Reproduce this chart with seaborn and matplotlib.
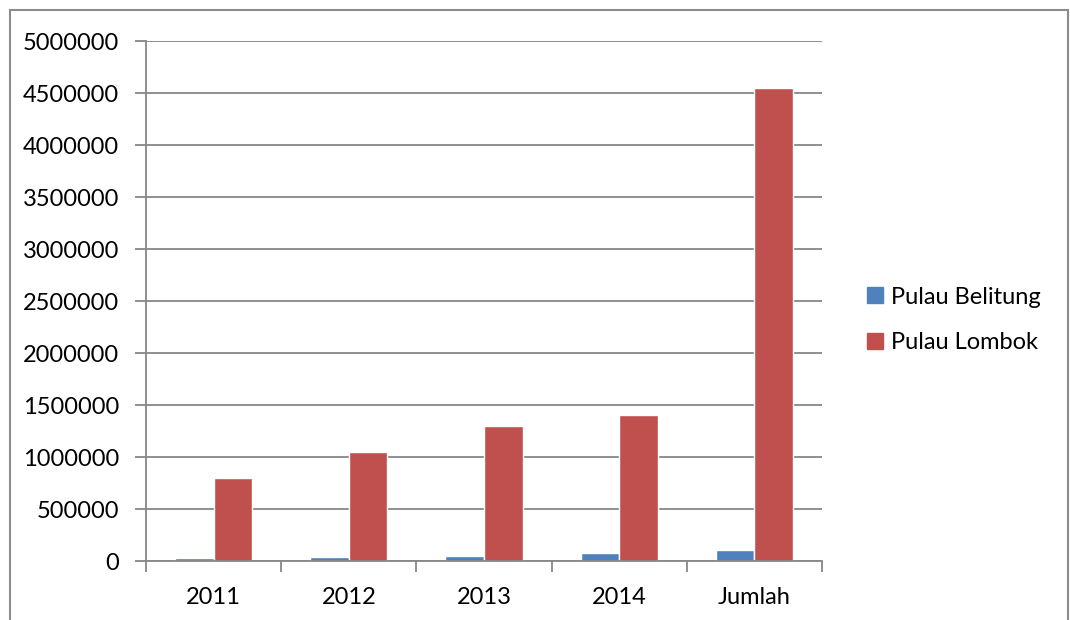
import numpy as np
import pandas as pd
import matplotlib.pyplot as plt
import matplotlib.patches as mpatches
from matplotlib.ticker import FixedLocator
import seaborn as sns

sns.set_theme(style="white")
plt.rcParams['font.family'] = ['Lato', 'DejaVu Sans']
plt.rcParams['text.color'] = 'black'
plt.rcParams['xtick.labelcolor'] = 'black'
plt.rcParams['ytick.labelcolor'] = 'black'

# data
categories = ['2011', '2012', '2013', '2014', 'Jumlah']
belitung = [28000, 36000, 45000, 81000, 105000]
lombok = [800000, 1050000, 1300000, 1400000, 4550000]
series_names = ['Pulau Belitung', 'Pulau Lombok']
colors = ['#4F81BD', '#C0504D']
yticks = list(range(0, 5000001, 500000))

df = pd.DataFrame({
    'year': categories * 2,
    'value': belitung + lombok,
    'series': [series_names[0]] * len(categories) + [series_names[1]] * len(categories),
})

W, H = 1070, 620
fig = plt.figure(figsize=(W / 100, H / 100), dpi=100)
ax = fig.add_axes([146 / W, 1 - 561 / H, (822 - 146) / W, (561 - 41) / H])

sns.barplot(data=df, x='year', y='value', hue='series', palette=colors,
            width=0.572, saturation=1, ax=ax, legend=False, errorbar=None)

grid_c = '#878787'
ax.set_xlim(-0.5, len(categories) - 0.5)
ax.set_ylim(0, 5000000)
ax.set_yticks(yticks)
ax.set_yticklabels([str(v) for v in yticks])
ax.yaxis.grid(True, color=grid_c, linewidth=1.3)
ax.set_axisbelow(True)
ax.set_xlabel('')
ax.set_ylabel('')

for s in ['top', 'right']:
    ax.spines[s].set_visible(False)
for s in ['left', 'bottom']:
    ax.spines[s].set_color(grid_c)
    ax.spines[s].set_linewidth(1.3)

ax.tick_params(axis='y', length=8, width=1.3, color=grid_c, pad=11.5, labelsize=17, left=True)
ax.tick_params(axis='x', which='major', length=0, pad=19, labelsize=17)
ax.xaxis.set_minor_locator(FixedLocator(np.arange(-0.5, len(categories), 1.0)))
ax.tick_params(axis='x', which='minor', length=8, width=1.3, color=grid_c, bottom=True)

handles = [mpatches.Patch(color=c, label=n) for c, n in zip(colors, series_names)]
fig.legend(handles=handles, loc='center left', bbox_to_anchor=(858 / W, 1 - 320 / H),
           frameon=False, fontsize=17, handlelength=0.65, handleheight=0.65,
           handletextpad=0.35, labelspacing=1.05, borderaxespad=0)

border = mpatches.Rectangle((10 / W, -0.1), (1068 - 10) / W, 1.1 - 10 / H,
                            transform=fig.transFigure, fill=False,
                            edgecolor='#8C8C8C', linewidth=1.5)
fig.patches.append(border)

fig.savefig('out.png', dpi=100)
